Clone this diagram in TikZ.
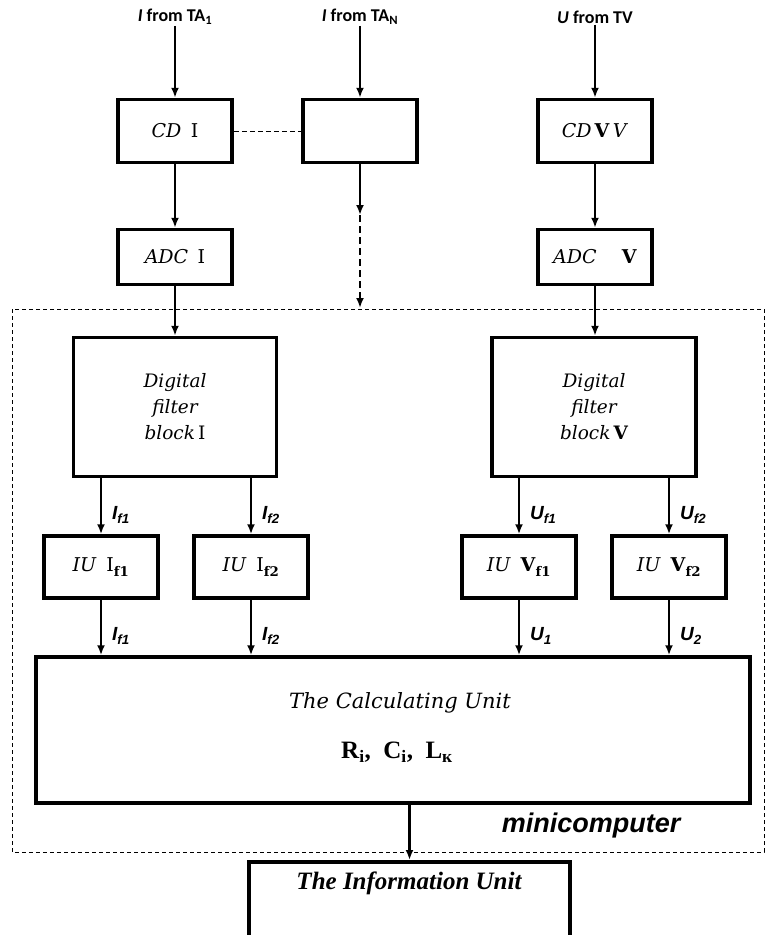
\documentclass[tikz,border=0pt]{standalone}
\usepackage{fontspec}
\newfontfamily\cbfont{Carlito}
\newfontfamily\arfont{Liberation Sans}
\newfontfamily\tmfont{Liberation Serif}
\newfontfamily\dvfont{DejaVu Serif}
\usetikzlibrary{arrows.meta}

\tikzset{
  unit/.style={draw, line width=3.5pt, inner sep=0pt, align=center,
    font=\dvfont\fontsize{19}{26}\selectfont},
  arr/.style={line width=2.6pt, -{Latex[length=10pt,width=8pt]}},
  toplbl/.style={font=\cbfont\bfseries\fontsize{18}{20}\selectfont, inner sep=1pt},
  siglbl/.style={font=\arfont\bfseries\itshape\fontsize{19}{20}\selectfont,
    anchor=west, inner sep=0pt},
}

\begin{document}
\begin{tikzpicture}[x=1pt, y=-1pt]
  \useasboundingbox (0,0) rectangle (765,935);

  % inputs
  \node[toplbl] (inI) at (175,17) {\textit{I} from TA\textsubscript{1}};
  \node[toplbl] (inN) at (360,17) {\textit{I} from TA\textsubscript{N}};
  \node[toplbl] (inV) at (595,17) {\textit{U} from TV};

  % converters
  \node[unit, minimum width=114pt, minimum height=63pt] (cdI) at (175,131)
    {\textit{CD}\enspace I};
  \node[unit, minimum width=114pt, minimum height=63pt] (cdN) at (360,131) {};
  \node[unit, minimum width=114pt, minimum height=63pt] (cdV) at (595,131)
    {\textit{CD}\,\textbf{V}\,\textit{V}};
  \node[unit, minimum width=114pt, minimum height=55pt] (adcI) at (175,257)
    {\textit{ADC}\enspace I};
  \node[unit, minimum width=114pt, minimum height=55pt] (adcV) at (595,257)
    {\textit{ADC}\quad\ \textbf{V}};

  \draw[arr] (inI) -- (cdI);
  \draw[arr] (inN) -- (cdN);
  \draw[arr] (inV) -- (cdV);
  \draw[line width=1pt, dash pattern=on 5pt off 3pt] (cdI) -- (cdN);
  \draw[arr] (cdI) -- (adcI);
  \draw[arr] (cdV) -- (adcV);

  \coordinate (nmid) at (360,215);
  \coordinate (nend) at (360,308);
  \draw[arr] (cdN) -- (nmid);
  \draw[arr, dash pattern=on 7pt off 4pt] (nmid) -- (nend);

  % minicomputer
  \draw[line width=0.9pt, dash pattern=on 4pt off 3pt] (12,309) rectangle (764,852);
  \node[font=\arfont\bfseries\itshape\fontsize{27}{28}\selectfont, anchor=east]
    (mclbl) at (684,826) {minicomputer};

  \node[unit, minimum width=203pt, minimum height=139pt, font=\dvfont\itshape\fontsize{18.5}{26}\selectfont]
    (filtI) at (175,407) {Digital\\filter\\block\,\upshape I};
  \node[unit, minimum width=204pt, minimum height=139pt, font=\dvfont\itshape\fontsize{18.5}{26}\selectfont]
    (filtV) at (594,407) {Digital\\filter\\block\,\upshape\bfseries V};
  \draw[arr] (adcI) -- (filtI);
  \draw[arr] (adcV.south) -- (adcV.south |- filtV.north);

  \node[unit, minimum width=114pt, minimum height=62pt] (iuIa) at (101,567)
    {\textit{IU}\enspace I\textsubscript{\bfseries f1}};
  \node[unit, minimum width=114pt, minimum height=62pt] (iuIb) at (251,567)
    {\textit{IU}\enspace I\textsubscript{\bfseries f2}};
  \node[unit, minimum width=114pt, minimum height=62pt] (iuVa) at (519,567)
    {\textit{IU}\enspace\textbf{V}\textsubscript{\bfseries f1}};
  \node[unit, minimum width=114pt, minimum height=62pt] (iuVb) at (669,567)
    {\textit{IU}\enspace\textbf{V}\textsubscript{\bfseries f2}};

  \draw[arr] (filtI.south -| iuIa) -- (iuIa);
  \draw[arr] (filtI.south -| iuIb) -- (iuIb);
  \draw[arr] (filtV.south -| iuVa) -- (iuVa);
  \draw[arr] (filtV.south -| iuVb) -- (iuVb);
  \node[siglbl] (sIa) at (112,515) {I\textsubscript{f1}};
  \node[siglbl] (sIb) at (262,515) {I\textsubscript{f2}};
  \node[siglbl] (sVa) at (530,515) {U\textsubscript{f1}};
  \node[siglbl] (sVb) at (680,515) {U\textsubscript{f2}};

  % calculating unit
  \node[unit, minimum width=714pt, minimum height=146pt] (calc) at (393,730) {};
  \node[font=\dvfont\itshape\fontsize{21}{24}\selectfont] (calcT) at (400,703)
    {The Calculating Unit};
  \node[font=\tmfont\bfseries\fontsize{25}{26}\selectfont] (calcR) at (397,752)
    {R\textsubscript{i},\ \ C\textsubscript{i},\ \ L\textsubscript{к}};

  \draw[arr] (iuIa) -- (iuIa |- calc.north);
  \draw[arr] (iuIb) -- (iuIb |- calc.north);
  \draw[arr] (iuVa) -- (iuVa |- calc.north);
  \draw[arr] (iuVb) -- (iuVb |- calc.north);
  \node[siglbl] (oIa) at (112,636) {I\textsubscript{f1}};
  \node[siglbl] (oIb) at (262,636) {I\textsubscript{f2}};
  \node[siglbl] (oVa) at (530,636) {U\textsubscript{1}};
  \node[siglbl] (oVb) at (680,636) {U\textsubscript{2}};

  % information unit
  \node[unit, minimum width=321pt, minimum height=150pt, anchor=north] (infoU)
    at (409.5,860) {};
  \node[font=\tmfont\bfseries\itshape\fontsize{25}{26}\selectfont] (infoT)
    at (409,883) {The Information Unit};
  \draw[arr] (infoU.north |- calc.south) -- (infoU.north);

\end{tikzpicture}
\end{document}
